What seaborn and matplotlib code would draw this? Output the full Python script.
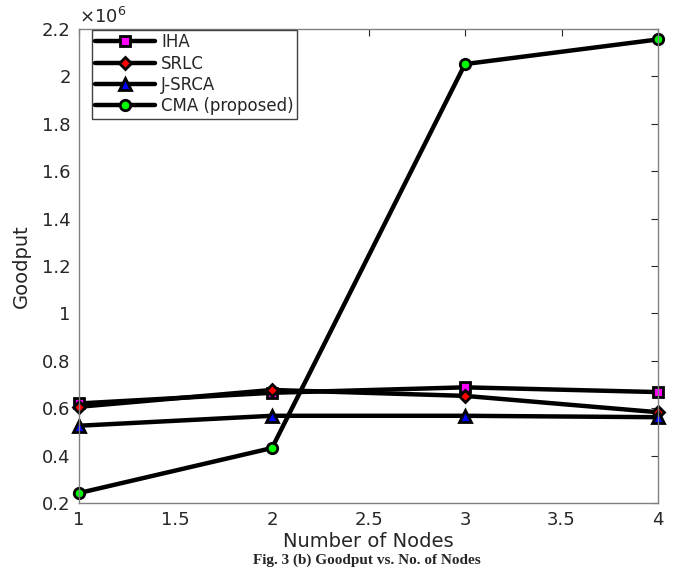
import matplotlib
matplotlib.use("Agg")
import matplotlib.pyplot as plt
import seaborn as sns
import pandas as pd

nodes = [1, 2, 3, 4]
iha = [0.620, 0.665, 0.688, 0.668]
srlc = [0.606, 0.677, 0.652, 0.583]
jsrca = [0.526, 0.568, 0.568, 0.562]
cma = [0.242, 0.432, 2.052, 2.156]
series_names = ["IHA", "SRLC", "J-SRCA", "CMA (proposed)"]
x_ticks = [1, 1.5, 2, 2.5, 3, 3.5, 4]
y_ticks = [0.2, 0.4, 0.6, 0.8, 1.0, 1.2, 1.4, 1.6, 1.8, 2.0, 2.2]
y_ticklabels = ["0.2", "0.4", "0.6", "0.8", "1", "1.2", "1.4", "1.6", "1.8", "2", "2.2"]

sns.set_style("white")
plt.rcParams['font.family'] = ['DejaVu Sans']

fig = plt.figure(figsize=(6.74, 5.67), dpi=100)
ax = fig.add_axes([79/674, 1-503/567, (658-79)/674, (503-29)/567])

styles = [
    (iha, 's', '#ff00ff', 7.5),
    (srlc, 'D', '#ff0000', 6.5),
    (jsrca, '^', '#0000ff', 8),
    (cma, 'o', '#00ff00', 7.5),
]
for name, (vals, mk, fc, ms) in zip(series_names, styles):
    df = pd.DataFrame({"x": nodes, "y": vals})
    sns.lineplot(data=df, x="x", y="y", ax=ax, color="black", lw=3.2,
                 marker=mk, markersize=ms, markerfacecolor=fc,
                 markeredgecolor="black", markeredgewidth=2, label=name,
                 clip_on=False)

ax.set_xlim(1, 4)
ax.set_ylim(0.2, 2.2)
ax.set_xticks(x_ticks)
ax.set_xticklabels(["1", "1.5", "2", "2.5", "3", "3.5", "4"])
ax.set_yticks(y_ticks)
ax.set_yticklabels(y_ticklabels)
ax.tick_params(direction='in', length=5, width=0.8, colors='#262626',
               labelsize=13, top=True, right=True, pad=6)
for s in ax.spines.values():
    s.set_color('#808080')
    s.set_linewidth(1.0)
ax.set_xlabel("Number of Nodes", fontsize=14, color='#262626', labelpad=2)
ax.set_ylabel("Goodput", fontsize=14, color='#262626', labelpad=8)

ax.text(0.0, 1.005, r"$\times\mathregular{10^{6}}$", transform=ax.transAxes,
        fontsize=13, color='#262626', ha='left', va='bottom')

leg = ax.legend(loc='upper left', bbox_to_anchor=(0.022, 0.998), fontsize=12,
                frameon=True, fancybox=False, framealpha=1, edgecolor='#404040',
                handlelength=3.6, borderpad=0.2, labelspacing=0.2,
                handletextpad=0.35, borderaxespad=0)
leg.get_frame().set_linewidth(1.0)

fig.text(0.545, 1-560/567, "Fig. 3 (b) Goodput vs. No. of Nodes", fontsize=11,
         fontweight='bold', family='Liberation Serif', ha='center', va='center')

fig.savefig("out.png", dpi=100)
